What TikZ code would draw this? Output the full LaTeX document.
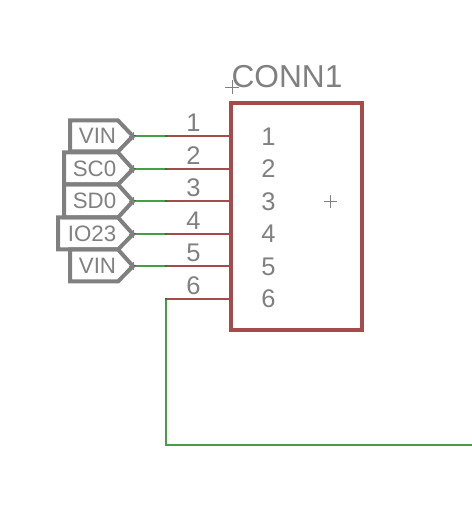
\documentclass[tikz,border=0pt]{standalone}
\usepackage{fontspec}
\setmainfont{Liberation Sans}
\definecolor{pinred}{HTML}{A54B4B}
\definecolor{netgreen}{HTML}{45A045}
\definecolor{joingreen}{HTML}{2B7A2B}
\definecolor{taggray}{HTML}{808080}
\tikzset{
  tag/.style={draw=taggray,line width=4bp,line join=miter},
  pin/.style={draw=pinred,line width=2bp},
  net/.style={draw=netgreen,line width=2bp},
  cross/.style={draw=taggray,line width=0.7bp},
  txt/.style={inner sep=0pt,text=taggray,anchor=base},
  num/.style={txt,font=\fontsize{25.5bp}{25.5bp}\selectfont},
  lbl/.style={txt,font=\fontsize{22.3bp}{22.3bp}\selectfont},
}
\begin{document}
\begin{tikzpicture}[line join=bevel,]
\useasboundingbox (0bp,0.5bp) rectangle (472bp,511.5bp);
%%
\coordinate (tip_1) at (133bp,375.3bp);
\coordinate (tip_2) at (133bp,342.3bp);
\coordinate (tip_3) at (133bp,310.3bp);
\coordinate (tip_4) at (133bp,277.3bp);
\coordinate (tip_5) at (133bp,245.3bp);
\coordinate (mid_1) at (166bp,375.3bp);
\coordinate (mid_2) at (166bp,342.3bp);
\coordinate (mid_3) at (166bp,310.3bp);
\coordinate (mid_4) at (166bp,277.3bp);
\coordinate (mid_5) at (166bp,245.3bp);
\coordinate (mid_6) at (166bp,212.3bp);
\coordinate (end_1) at (231bp,375.3bp);
\coordinate (end_2) at (231bp,342.3bp);
\coordinate (end_3) at (231bp,310.3bp);
\coordinate (end_4) at (231bp,277.3bp);
\coordinate (end_5) at (231bp,245.3bp);
\coordinate (end_6) at (231bp,212.3bp);
\coordinate (net_corner) at (166bp,66.3bp);
\coordinate (net_out) at (472bp,66.3bp);
%
\draw [tag] (tip_1) -- (118bp,391bp) -- (70bp,391bp) -- (70bp,360bp) -- (118bp,360bp) -- cycle;
\draw [tag] (tip_2) -- (118bp,359bp) -- (64bp,359bp) -- (64bp,327bp) -- (118bp,327bp) -- cycle;
\draw [tag] (tip_3) -- (118bp,327bp) -- (64bp,327bp) -- (64bp,294bp) -- (118bp,294bp) -- cycle;
\draw [tag] (tip_4) -- (118bp,294bp) -- (58bp,294bp) -- (58bp,262bp) -- (118bp,262bp) -- cycle;
\draw [tag] (tip_5) -- (118bp,262bp) -- (70bp,262bp) -- (70bp,230bp) -- (118bp,230bp) -- cycle;
\node (tag_vin_a) at (97.5bp,368bp) [lbl] {VIN};
\node (tag_sc0) at (94.5bp,335bp) [lbl] {SC0};
\node (tag_sd0) at (94.5bp,303bp) [lbl] {SD0};
\node (tag_io23) at (92bp,270bp) [lbl] {IO23};
\node (tag_vin_b) at (97.5bp,238bp) [lbl] {VIN};
%
\draw [pin] (mid_1) -- (end_1);
\draw [pin] (mid_2) -- (end_2);
\draw [pin] (mid_3) -- (end_3);
\draw [pin] (mid_4) -- (end_4);
\draw [pin] (mid_5) -- (end_5);
\draw [pin] (mid_6) -- (end_6);
\draw [net] (tip_1) -- (mid_1);
\draw [net] (tip_2) -- (mid_2);
\draw [net] (tip_3) -- (mid_3);
\draw [net] (tip_4) -- (mid_4);
\draw [net] (tip_5) -- (mid_5);
\draw [net,line join=miter] (mid_6) -- (net_corner) -- (net_out);
%
\foreach \pt in {mid_1,mid_2,mid_3,mid_4,mid_5,mid_6}
  \fill [joingreen] (\pt) +(-1bp,-1bp) rectangle +(1bp,1bp);
\foreach \pt in {tip_1,tip_2,tip_3,tip_4,tip_5}
  \fill [joingreen] (\pt) +(0bp,-1bp) rectangle +(3bp,1bp);
%
\draw [cross] (129bp,375.3bp) -- (137bp,375.3bp) (133bp,371.3bp) -- (133bp,379.3bp);
\draw [cross] (129bp,342.3bp) -- (137bp,342.3bp) (133bp,338.3bp) -- (133bp,346.3bp);
\draw [cross] (129bp,310.3bp) -- (137bp,310.3bp) (133bp,306.3bp) -- (133bp,314.3bp);
\draw [cross] (129bp,277.3bp) -- (137bp,277.3bp) (133bp,273.3bp) -- (133bp,281.3bp);
\draw [cross] (129bp,245.3bp) -- (137bp,245.3bp) (133bp,241.3bp) -- (133bp,249.3bp);
%
\draw [draw=pinred,line width=4bp,line join=miter] (231bp,408bp) rectangle (362bp,181bp);
\draw [cross] (225bp,424bp) -- (239bp,424bp) (232bp,417bp) -- (232bp,431bp);
\draw [cross] (324bp,310bp) -- (337bp,310bp) (330.5bp,303.5bp) -- (330.5bp,316.5bp);
%
\node (conn_name) at (287bp,423.5bp) [txt,font=\fontsize{31.7bp}{31.7bp}\selectfont] {CONN1};
\node (pin_1) at (193.5bp,380bp) [num] {1};
\node (pin_2) at (193.5bp,347bp) [num] {2};
\node (pin_3) at (193.5bp,315bp) [num] {3};
\node (pin_4) at (193.5bp,282bp) [num] {4};
\node (pin_5) at (193.5bp,250bp) [num] {5};
\node (pin_6) at (193.5bp,217bp) [num] {6};
\node (pad_1) at (268.5bp,366bp) [num] {1};
\node (pad_2) at (268.5bp,334bp) [num] {2};
\node (pad_3) at (268.5bp,301bp) [num] {3};
\node (pad_4) at (268.5bp,269bp) [num] {4};
\node (pad_5) at (268.5bp,236bp) [num] {5};
\node (pad_6) at (268.5bp,204bp) [num] {6};
%
\end{tikzpicture}
\end{document}
